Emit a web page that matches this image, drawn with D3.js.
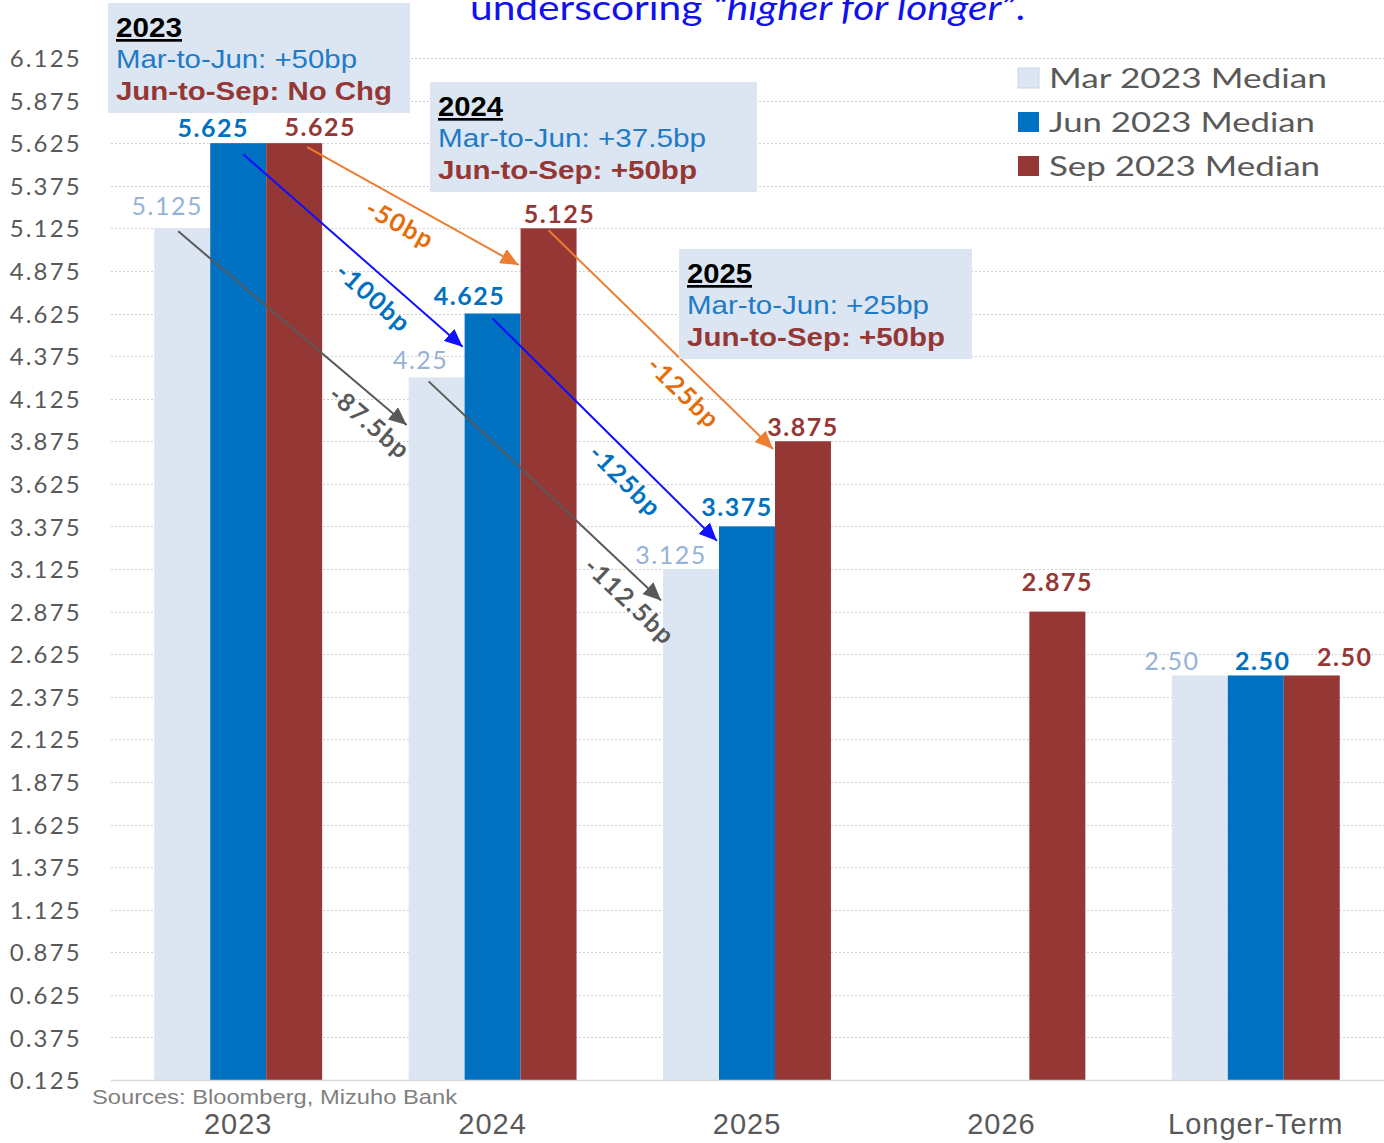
<!DOCTYPE html>
<html><head><meta charset="utf-8">
<script src="https://cdn.jsdelivr.net/npm/d3@7"></script>
<style>body{margin:0;background:#fff;} svg{display:block;}</style>
</head><body>
<script>
// ---------- data ----------
const categories = ["2023", "2024", "2025", "2026", "Longer-Term"];
const seriesNames = ["Mar 2023 Median", "Jun 2023 Median", "Sep 2023 Median"];
const marValues = [5.125, 4.25, 3.125, null, 2.5];
const junValues = [5.625, 4.625, 3.375, null, 2.5];
const sepValues = [5.625, 5.125, 3.875, 2.875, 2.5];
const marLabels = ["5.125", "4.25", "3.125", null, "2.50"];
const junLabels = ["5.625", "4.625", "3.375", null, "2.50"];
const sepLabels = ["5.625", "5.125", "3.875", "2.875", "2.50"];
const yTicks = [0.125,0.375,0.625,0.875,1.125,1.375,1.625,1.875,2.125,2.375,2.625,2.875,3.125,3.375,3.625,3.875,4.125,4.375,4.625,4.875,5.125,5.375,5.625,5.875,6.125];
// arrows: series index, from category, to category, value at arrow tip, label
const arrowSeries = [0, 1, 2, 0, 1, 2];
const arrowFrom = ["2023", "2023", "2023", "2024", "2024", "2024"];
const arrowTo = ["2024", "2024", "2024", "2025", "2025", "2025"];
const arrowTipValues = [3.97, 4.43, 4.91, 2.94, 3.29, 3.83];
const arrowLabels = ["-87.5bp", "-100bp", "-50bp", "-112.5bp", "-125bp", "-125bp"];
// annotation boxes
const boxYears = ["2023", "2024", "2025"];
const boxMarToJun = ["Mar-to-Jun: +50bp", "Mar-to-Jun: +37.5bp", "Mar-to-Jun: +25bp"];
const boxJunToSep = ["Jun-to-Sep: No Chg", "Jun-to-Sep: +50bp", "Jun-to-Sep: +50bp"];
const titleParts = ["underscoring ", "\u201Chigher for longer\u201D", "."];
const sourceText = "Sources: Bloomberg, Mizuho Bank";

// ---------- layout / style ----------
const W = 1384, H = 1143;
const barColors = ["#dce6f2", "#0070c0", "#953735"];
const labelColors = ["#95b3d7", "#0070c0", "#953735"];
const arrowColors = ["#595959", "#1010ff", "#ed7d31"];
const arrowTextColors = ["#595959", "#0070c0", "#e46c0a"];
const labelDx = [[-15, -16, -20, 0, -28], [-25, -23, -10, 0, 7], [26, 11, 0, 0, 33]];
const labelDy = [[-13, -8, -5, 0, -5], [-6, -9, -10, 0, -5], [-7, -5, -5, -21, -9]];
const arrowStartDx = [-4, 5, 13, -8, 0, 0];
const arrowStartDy = [3, 11, 4, 4, 5, 2];
const arrowLabelT = [0.9, 0.66, 0.49, 0.93, 0.66, 0.67];
const boxRects = [[108, 3, 302, 110], [430, 82, 327, 110], [679, 249, 293, 110]];
const boxTextLen = [[66, 241, 276], [65, 268, 259], [65, 242, 258]];

const values = [marValues, junValues, sepValues];
const labels = [marLabels, junLabels, sepLabels];

const svg = d3.select("body").append("svg").attr("width", W).attr("height", H);
svg.append("rect").attr("width", W).attr("height", H).attr("fill", "#fff");

const y = d3.scaleLinear().domain([0.125, 6.125]).range([1080, 58]);
const x0 = d3.scaleBand().domain(categories).range([111, 1383]).paddingInner(0.34).paddingOuter(0.17);
const x1 = d3.scaleBand().domain([0, 1, 2]).range([0, x0.bandwidth()]);

// gridlines
svg.append("g").selectAll("line").data(yTicks.slice(1)).join("line")
  .attr("x1", 111).attr("x2", 1384)
  .attr("y1", d => Math.round(y(d)) + 0.5).attr("y2", d => Math.round(y(d)) + 0.5)
  .attr("stroke", "#cfcfcf").attr("stroke-width", 1.2).attr("stroke-dasharray", "2,2");

// y axis
const yAxis = svg.append("g").attr("transform", "translate(82,0)")
  .call(d3.axisLeft(y).tickValues(yTicks).tickFormat(d3.format(".3f")).tickSize(0).tickPadding(0));
yAxis.select(".domain").remove();
yAxis.selectAll("text").attr("fill", "#595959").attr("font-family", "Lato, 'Open Sans', sans-serif")
  .attr("font-size", 24).attr("letter-spacing", "2.2px").attr("dy", "0.36em");

// bars
values.forEach((vals, s) => {
  svg.append("g").selectAll("rect").data(categories.map((c, i) => ({c, v: vals[i]})).filter(d => d.v != null))
    .join("rect")
    .attr("x", d => x0(d.c) + x1(s)).attr("width", x1.bandwidth())
    .attr("y", d => y(d.v)).attr("height", d => y(0.125) - y(d.v))
    .attr("fill", barColors[s]);
});

// baseline
svg.append("line").attr("x1", 111).attr("x2", 1384).attr("y1", y(0.125) + 0.5).attr("y2", y(0.125) + 0.5)
  .attr("stroke", "#d9d9d9").attr("stroke-width", 1.5);

// x axis
const xAxis = svg.append("g").attr("transform", `translate(0,${y(0.125)})`)
  .call(d3.axisBottom(x0).tickSize(0).tickPadding(0));
xAxis.select(".domain").remove();
xAxis.selectAll("text").attr("fill", "#595959")
  .attr("font-family", "'Liberation Sans Narrow', 'Liberation Sans', Arial, sans-serif")
  .attr("font-size", 29).attr("dy", 0).attr("y", 54).attr("letter-spacing", "1px");

// source
svg.append("text").attr("x", 92).attr("y", 1104).text(sourceText)
  .attr("font-family", "'Liberation Sans Narrow', 'Liberation Sans', Arial, sans-serif")
  .attr("font-size", 21).attr("fill", "#7f7f7f").attr("textLength", 365).attr("lengthAdjust", "spacingAndGlyphs");

// arrows
const defs = svg.append("defs");
arrowColors.forEach((c, i) => {
  defs.append("marker").attr("id", "ah" + i).attr("markerUnits", "userSpaceOnUse")
    .attr("markerWidth", 20).attr("markerHeight", 16).attr("refX", 18).attr("refY", 8)
    .attr("orient", "auto")
    .append("path").attr("d", "M0,0 L18,8 L0,16 Z").attr("fill", c);
});
arrowSeries.forEach((s, k) => {
  const fi = categories.indexOf(arrowFrom[k]);
  const sx = x0(arrowFrom[k]) + x1(s) + x1.bandwidth() / 2 + arrowStartDx[k];
  const sy = y(values[s][fi]) + arrowStartDy[k];
  const ex = x0(arrowTo[k]) + x1(s) - 2;
  const ey = y(arrowTipValues[k]);
  svg.append("line").attr("x1", sx).attr("y1", sy).attr("x2", ex).attr("y2", ey)
    .attr("stroke", arrowColors[s]).attr("stroke-width", 2).attr("marker-end", `url(#ah${s})`);
  const dx = ex - sx, dy = ey - sy, len = Math.hypot(dx, dy);
  const ux = dx / len, uy = dy / len;
  const t = arrowLabelT[k];
  const px = sx + dx * t - uy * 22, py = sy + dy * t + ux * 22;
  const ang = Math.atan2(dy, dx) * 180 / Math.PI;
  svg.append("text").attr("transform", `translate(${px},${py}) rotate(${ang})`)
    .attr("text-anchor", "middle").attr("dy", "0.35em")
    .attr("font-family", "Lato, 'Open Sans', sans-serif").attr("font-weight", "bold")
    .attr("font-size", 25).attr("letter-spacing", "1.5px")
    .attr("fill", arrowTextColors[s]).text(arrowLabels[k]);
});

// data labels
labels.forEach((labs, s) => {
  labs.forEach((txt, i) => {
    if (txt == null) return;
    const cx = x0(categories[i]) + x1(s) + x1.bandwidth() / 2;
    svg.append("text").attr("x", cx + labelDx[s][i]).attr("y", y(values[s][i]) + labelDy[s][i])
      .attr("text-anchor", "middle").attr("font-family", "Lato, 'Open Sans', sans-serif")
      .attr("font-weight", s === 0 ? "normal" : "bold").attr("font-size", 25)
      .attr("letter-spacing", "1.5px").attr("fill", labelColors[s]).text(txt);
  });
});

// annotation boxes
boxYears.forEach((yr, b) => {
  const [bx, by, bw, bh] = boxRects[b];
  const g = svg.append("g");
  g.append("rect").attr("x", bx).attr("y", by).attr("width", bw).attr("height", bh).attr("fill", "#dce6f2");
  const tx = bx + 8;
  const ff = "'Liberation Sans', Arial, sans-serif";
  g.append("text").attr("x", tx).attr("y", by + 34).text(yr).attr("font-family", ff).attr("font-weight", "bold")
    .attr("font-size", 27).attr("fill", "#000").attr("text-decoration", "underline")
    .attr("textLength", boxTextLen[b][0]).attr("lengthAdjust", "spacingAndGlyphs");
  g.append("text").attr("x", tx).attr("y", by + 65).text(boxMarToJun[b]).attr("font-family", ff)
    .attr("font-size", 26).attr("fill", "#1f7bc6")
    .attr("textLength", boxTextLen[b][1]).attr("lengthAdjust", "spacingAndGlyphs");
  g.append("text").attr("x", tx).attr("y", by + 97).text(boxJunToSep[b]).attr("font-family", ff)
    .attr("font-weight", "bold").attr("font-size", 26).attr("fill", "#953735")
    .attr("textLength", boxTextLen[b][2]).attr("lengthAdjust", "spacingAndGlyphs");
});

// title fragment (cropped at the top edge, as in the source image)
const title = svg.append("text").attr("x", 470).attr("y", 20).attr("font-family", "Lato, 'Open Sans', sans-serif")
  .attr("font-size", 34).attr("fill", "#1111ee").attr("textLength", 555).attr("lengthAdjust", "spacingAndGlyphs");
titleParts.forEach((p, i) => title.append("tspan").attr("font-style", i === 1 ? "italic" : "normal").text(p));

// legend
const legendLen = [278, 266, 271];
seriesNames.forEach((n, i) => {
  svg.append("rect").attr("x", 1018).attr("y", 68 + i * 44).attr("width", 21).attr("height", 20)
    .attr("fill", barColors[i]).attr("stroke", i === 0 ? "#c5d5ea" : "none");
  svg.append("text").attr("x", 1049).attr("y", 88 + i * 44).text(n)
    .attr("font-family", "Lato, 'Open Sans', sans-serif").attr("font-size", 27).attr("fill", "#595959")
    .attr("textLength", legendLen[i]).attr("lengthAdjust", "spacingAndGlyphs");
});
</script>
</body></html>
